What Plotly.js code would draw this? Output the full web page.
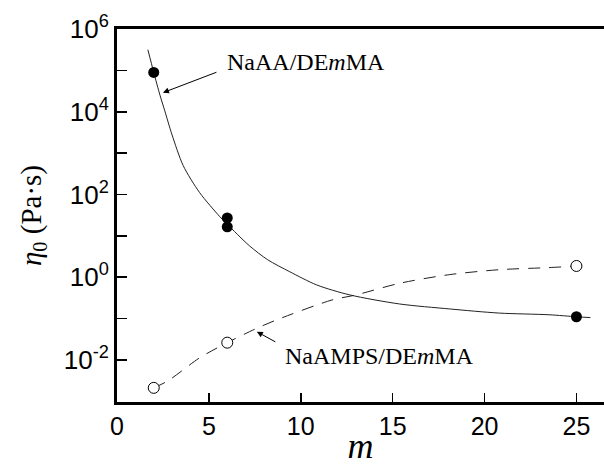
<!DOCTYPE html>
<html>
<head>
<meta charset="utf-8">
<script src="https://cdn.plot.ly/plotly-3.0.1.min.js"></script>
<style>html,body{margin:0;padding:0;background:#fff;}</style>
</head>
<body>
<div id="chart" style="width:604px;height:466px;"></div>
<script>
// NaAA/DEmMA measured points
var naaaM = [2, 6, 6, 25];
var naaaEta = [8.9e4, 27, 16.5, 0.11];
// NaAMPS/DEmMA measured points
var naampsM = [2, 6, 25];
var naampsEta = [0.0021, 0.026, 1.86];
// NaAA/DEmMA guide curve
var naaaCurveM = [1.68, 2.0, 2.34, 2.6, 2.98, 3.6, 4.5, 5.6, 6.0, 7.2, 8.2, 9.4, 10.87, 12.66, 15.38, 18.1, 20.8, 23.5, 25, 25.76];
var naaaCurveEta = [3.16e5, 8.9e4, 2.5e4, 1.05e4, 2.9e3, 500, 110, 28.8, 19, 5.75, 2.63, 1.35, 0.646, 0.372, 0.224, 0.17, 0.135, 0.123, 0.11, 0.105];
// NaAMPS/DEmMA guide curve
var naampsCurveM = [2, 2.77, 4.5, 6, 7.5, 8.7, 11.7, 13.0, 15.38, 18.1, 20.8, 23.5, 25, 25.7];
var naampsCurveEta = [0.0021, 0.0031, 0.0112, 0.026, 0.055, 0.093, 0.28, 0.37, 0.71, 1.15, 1.51, 1.7, 1.86, 2.0];
// tick labels
var xTickVals = [0, 5, 10, 15, 20, 25];
var yTickVals = [1e-3, 1e-2, 1e-1, 1e0, 1e1, 1e2, 1e3, 1e4, 1e5, 1e6];
var yTickText = ['', '10<sup>-2</sup>', '', '10<sup>0</sup>', '', '10<sup>2</sup>', '', '10<sup>4</sup>', '', '10<sup>6</sup>'];

// minor tick positions (layout only)
var xMinor = [];
for (var i = 1; i <= 26; i++) { if (i % 5 !== 0) xMinor.push(i); }
var yMinor = [];
for (var n = -3; n <= 5; n++) { for (var k = 2; k <= 9; k++) { yMinor.push(k * Math.pow(10, n)); } }

var traces = [
  {x: naaaCurveM, y: naaaCurveEta, mode: 'lines', line: {color: '#222', width: 1, shape: 'spline', smoothing: 0.8}, hoverinfo: 'skip'},
  {x: naampsCurveM, y: naampsCurveEta, mode: 'lines', line: {color: '#222', width: 1, shape: 'spline', smoothing: 0.8, dash: '12px,9px'}, hoverinfo: 'skip'},
  {x: naaaM, y: naaaEta, mode: 'markers', marker: {symbol: 'circle', size: 11, color: '#000'}},
  {x: naampsM, y: naampsEta, mode: 'markers', marker: {symbol: 'circle', size: 11, color: '#fff', line: {color: '#000', width: 1}}}
];

var serif = 'Liberation Serif, Times New Roman, serif';
var sans = 'Liberation Sans, Arial, sans-serif';
var xRange = [0, 26.5];
var yRange = [-3.02, 6];

var layout = {
  width: 604, height: 466,
  margin: {l: 117, r: 0, t: 29, b: 64},
  paper_bgcolor: '#fff', plot_bgcolor: '#fff',
  showlegend: false,
  xaxis: {
    range: xRange,
    tickmode: 'array', tickvals: xTickVals,
    ticks: 'inside', ticklen: 9, tickwidth: 1.6, tickcolor: '#000',
    showline: true, linewidth: 3, linecolor: '#000', mirror: true,
    showgrid: false, zeroline: false,
    tickfont: {family: sans, size: 25, color: '#000'},
    title: {text: '<i>m</i>', font: {family: serif, size: 36, color: '#000'}, standoff: 0}
  },
  xaxis2: {
    range: xRange, overlaying: 'x', anchor: 'y', side: 'bottom',
    tickmode: 'array', tickvals: xMinor,
    ticks: 'inside', ticklen: 5, tickwidth: 1.3, tickcolor: '#000',
    showticklabels: false, showline: false, showgrid: false, zeroline: false
  },
  yaxis: {
    type: 'log', range: yRange,
    tickmode: 'array', tickvals: yTickVals, ticktext: yTickText,
    ticks: 'inside', ticklen: 10, tickwidth: 1.6, tickcolor: '#000',
    showline: true, linewidth: 3, linecolor: '#000', mirror: false,
    showgrid: false, zeroline: false,
    tickfont: {family: sans, size: 26, color: '#000'},
    title: {text: '<i>η</i><sub>0</sub> (Pa·s)', font: {family: serif, size: 29, color: '#000'}, standoff: 14}
  },
  yaxis2: {
    type: 'log', range: yRange, overlaying: 'y', anchor: 'x', side: 'left',
    tickmode: 'array', tickvals: yMinor,
    ticks: 'inside', ticklen: 5, tickwidth: 1.1, tickcolor: '#000',
    showticklabels: false, showline: false, showgrid: false, zeroline: false
  },
  annotations: [
    {x: 5.87, y: 5.21, xref: 'x', yref: 'y', xanchor: 'left', yanchor: 'middle', showarrow: false,
     text: 'NaAA/DE<i>m</i>MA', font: {family: serif, size: 24, color: '#000'}},
    {x: 9.02, y: -1.9, xref: 'x', yref: 'y', xanchor: 'left', yanchor: 'middle', showarrow: false,
     text: 'NaAMPS/DE<i>m</i>MA', font: {family: serif, size: 24, color: '#000'}},
    {x: 2.5, y: 4.46, xref: 'x', yref: 'y', ax: 55, ay: -21, text: '', showarrow: true,
     arrowhead: 2, arrowsize: 1.2, arrowwidth: 1, arrowcolor: '#000'},
    {x: 7.61, y: -1.32, xref: 'x', yref: 'y', ax: 20, ay: 11, text: '', showarrow: true,
     arrowhead: 2, arrowsize: 1.2, arrowwidth: 1, arrowcolor: '#000'}
  ]
};

Plotly.newPlot('chart', traces, layout, {staticPlot: true, displayModeBar: false});
</script>
</body>
</html>
